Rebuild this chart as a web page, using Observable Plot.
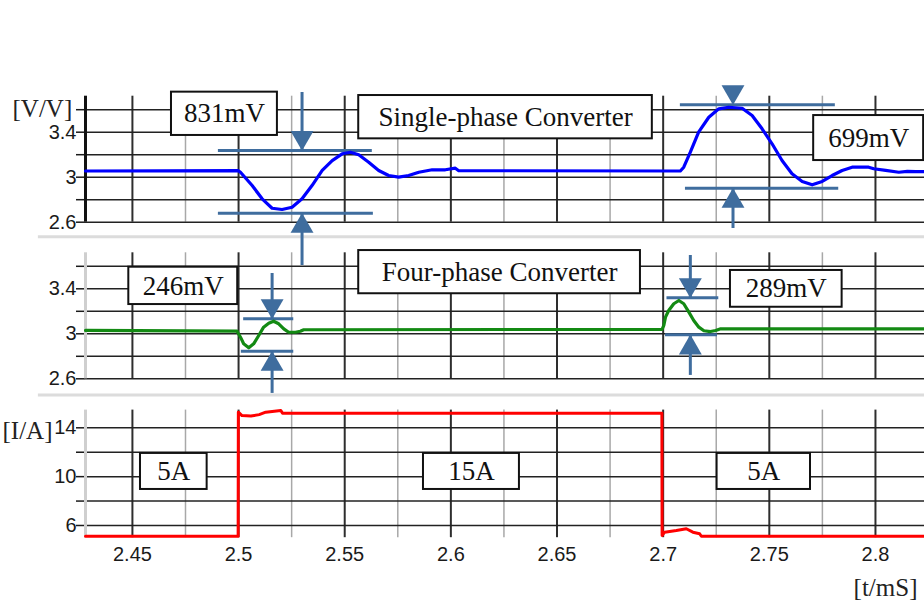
<!DOCTYPE html>
<html><head><meta charset="utf-8">
<script src="https://cdn.jsdelivr.net/npm/d3@7"></script>
<script src="https://cdn.jsdelivr.net/npm/@observablehq/plot@0.6"></script>
<style>
body{margin:0;background:#fff;}
#chart{position:relative;width:924px;height:603px;overflow:hidden;background:#fff;}
#chart svg{position:absolute;left:0;top:0;}
</style></head><body><div id="chart"></div>
<script>
// ---- axes ----
const tDomain = [2.4279, 2.8231];
const xMajor = [2.45, 2.5, 2.55, 2.6, 2.65, 2.7, 2.75, 2.8];
const xMinor = [2.475, 2.525, 2.575, 2.625, 2.675, 2.725, 2.775];
const vTicks = [3.6, 3.4, 3.2, 3.0, 2.8, 2.6];
const vLabeled = [3.4, 3.0, 2.6];
const iTicks = [14, 12, 10, 8, 6];
const iLabeled = [14, 10, 6];

// ---- series ----
const singleT = [2.4279,2.4999,2.5009,2.5064,2.5111,2.5158,2.5205,2.5252,2.5299,2.5346,2.5394,2.5441,2.5488,2.5527,2.5566,2.5613,2.5660,2.5707,2.5754,2.5801,2.5849,2.5912,2.5974,2.6021,2.6037,2.7081,2.7097,2.7128,2.7167,2.7215,2.7262,2.7309,2.7372,2.7419,2.7466,2.7513,2.7560,2.7607,2.7655,2.7702,2.7749,2.7796,2.7843,2.7890,2.7968,2.7992,2.8048,2.8110,2.8150,2.8189,2.8231];
const singleV = [3.055,3.058,3.044,2.926,2.808,2.724,2.713,2.733,2.808,2.926,3.060,3.148,3.208,3.222,3.199,3.133,3.060,3.015,3.000,3.015,3.044,3.066,3.066,3.080,3.058,3.055,3.089,3.222,3.400,3.533,3.608,3.622,3.613,3.548,3.430,3.297,3.148,3.030,2.962,2.932,2.962,3.015,3.060,3.089,3.089,3.075,3.060,3.044,3.052,3.050,3.050];

const fourT = [2.4279,2.4993,2.5009,2.5024,2.5048,2.5071,2.5095,2.5118,2.5142,2.5165,2.5189,2.5213,2.5236,2.5268,2.5291,2.5307,2.6995,2.7003,2.7011,2.7026,2.7050,2.7074,2.7097,2.7121,2.7144,2.7168,2.7192,2.7223,2.7247,2.7271,2.8231];
const fourV = [3.03,3.023,2.97,2.911,2.876,2.911,2.985,3.059,3.094,3.112,3.089,3.044,3.014,3.014,3.023,3.036,3.040,3.074,3.148,3.207,3.267,3.296,3.267,3.192,3.118,3.059,3.027,3.020,3.029,3.044,3.044];

const currentT = [2.4279,2.4998,2.4999,2.5016,2.5058,2.5097,2.5128,2.5199,2.5207,2.6994,2.6995,2.7007,2.7062,2.7109,2.7140,2.7172,2.7180,2.8231];
const currentI = [5.12,5.12,15.28,15.0,14.96,15.08,15.28,15.42,15.2,15.2,5.18,5.45,5.59,5.73,5.45,5.32,5.12,5.12];

// ---- annotations (data coordinates) ----
const topBoxes = [
  {label: "831mV", t1: 2.4684, t2: 2.5183, v1: 3.371, v2: 3.756},
  {label: "Single-phase Converter", t1: 2.5566, t2: 2.6949, v1: 3.341, v2: 3.726},
  {label: "699mV", t1: 2.7709, t2: 2.8227, v1: 3.148, v2: 3.548}
];
const midBoxes = [
  {label: "246mV", t1: 2.4483, t2: 2.4996, v1: 3.26, v2: 3.592},
  {label: "Four-phase Converter", t1: 2.5566, t2: 2.6893, v1: 3.356, v2: 3.74},
  {label: "289mV", t1: 2.7317, t2: 2.7843, v1: 3.236, v2: 3.563}
];
const botBoxes = [
  {label: "5A", t1: 2.4538, t2: 2.4852, v1: 8.95, v2: 11.9},
  {label: "15A", t1: 2.5871, t2: 2.6323, v1: 8.95, v2: 11.9},
  {label: "5A", t1: 2.7254, t2: 2.7694, v1: 8.95, v2: 11.9}
];
// measurement: arrow time, upper/lower level, line spans, shaft ends
const topMeas = [
  {t: 2.5299, hi: 3.237, lo: 2.68, hiT1: 2.4905, hiT2: 2.5630, loT1: 2.4905, loT2: 2.5635, top: 3.753, bottom: 2.215},
  {t: 2.7329, hi: 3.644, lo: 2.902, hiT1: 2.7081, hiT2: 2.7811, loT1: 2.7105, loT2: 2.7827, top: 3.644, bottom: 2.544}
];
const midMeas = [
  {t: 2.5158, hi: 3.133, lo: 2.845, hiT1: 2.5024, hiT2: 2.5260, loT1: 2.5013, loT2: 2.5260, top: 3.536, bottom: 2.47},
  {t: 2.7128, hi: 3.32, lo: 2.991, hiT1: 2.7018, hiT2: 2.7262, loT1: 2.7011, loT2: 2.7256, top: 3.696, bottom: 2.63}
];
const sepTop = {v: 2.47, t1: 2.4057};
const sepMid = {v: 2.457, t1: 2.4057};

const SERIF = "'Liberation Serif', 'Times New Roman', serif";
const SANS = "'Liberation Sans', Arial, sans-serif";
const ARROW = "#3f6d9e";

function measMarks(meas) {
  return [
    Plot.ruleY(meas, {y: "hi", x1: "hiT1", x2: "hiT2", stroke: ARROW, strokeWidth: 3}),
    Plot.ruleY(meas, {y: "lo", x1: "loT1", x2: "loT2", stroke: ARROW, strokeWidth: 3}),
    Plot.ruleX(meas, {x: "t", y1: "top", y2: "hi", stroke: ARROW, strokeWidth: 3}),
    Plot.ruleX(meas, {x: "t", y1: "lo", y2: "bottom", stroke: ARROW, strokeWidth: 3}),
    Plot.dot(meas, {x: "t", y: "hi", symbol: "triangle", r: 8.5, rotate: 180, dy: -13, fill: ARROW, stroke: "none"}),
    Plot.dot(meas, {x: "t", y: "lo", symbol: "triangle", r: 8.5, dy: 13, fill: ARROW, stroke: "none"})
  ];
}
function boxMarks(boxes) {
  return [
    Plot.rect(boxes, {x1: "t1", x2: "t2", y1: "v1", y2: "v2", fill: "white", stroke: "#111", strokeWidth: 2}),
    Plot.text(boxes, {x: d => (d.t1 + d.t2) / 2, y: d => (d.v1 + d.v2) / 2, text: "label", fontFamily: SERIF, fontSize: 27, fill: "#111"})
  ];
}
function gridMarks(ticks, labeled, leftColor, leftWidth) {
  return [
    Plot.ruleX(xMinor, {stroke: "#a8a8a8", strokeWidth: 1.5}),
    Plot.ruleX(xMajor, {stroke: "#2e2e2e", strokeWidth: 2}),
    Plot.ruleY(ticks, {stroke: "#222", strokeWidth: 1.5}),
    Plot.axisY({ticks, tickSize: 9, tickPadding: 0, strokeWidth: 1.5, fontSize: 20,
      tickFormat: d => labeled.includes(d) ? String(d) : "", label: null}),
    Plot.ruleX([tDomain[0]], {stroke: leftColor, strokeWidth: leftWidth})
  ];
}
function makePlot(opts) {
  return Plot.plot({
    width: 924, height: 603,
    marginLeft: 85, marginRight: 0,
    marginTop: opts.marginTop, marginBottom: opts.marginBottom,
    style: {background: "transparent", overflow: "visible", fontFamily: SANS, color: "#1a1a1a"},
    x: {domain: tDomain, axis: opts.xAxis ? undefined : null},
    y: {domain: opts.yDomain},
    marks: opts.marks
  });
}

const chartEl = document.getElementById("chart");

// Top: single-phase
const topPlot = makePlot({
  marginTop: 95.7, marginBottom: 381.3, yDomain: [2.6, 3.72],
  marks: [
    Plot.ruleY([sepTop.v], {x1: sepTop.t1, x2: tDomain[1], stroke: "#dcdcdc", strokeWidth: 3}),
    ...gridMarks(vTicks, vLabeled, "#111", 3),
    ...measMarks(topMeas),
    Plot.line(singleT, {x: d => d, y: (d, i) => singleV[i], stroke: "#0000ff", strokeWidth: 3.2, curve: "linear"}),
    ...boxMarks(topBoxes),
    Plot.text(["[V/V]"], {frameAnchor: "top-left", lineAnchor: "middle", dx: -73, dy: 13, textAnchor: "start", fontFamily: SERIF, fontSize: 25, fill: "#222"})
  ]
});
chartEl.append(topPlot);

// Middle: four-phase
const midPlot = makePlot({
  marginTop: 252.3, marginBottom: 224.7, yDomain: [2.6, 3.72],
  marks: [
    Plot.ruleY([sepMid.v], {x1: sepMid.t1, x2: tDomain[1], stroke: "#dcdcdc", strokeWidth: 3}),
    ...gridMarks(vTicks, vLabeled, "#cfcfcf", 3),
    ...measMarks(midMeas),
    Plot.line(fourT, {x: d => d, y: (d, i) => fourV[i], stroke: "#138a13", strokeWidth: 3.2}),
    ...boxMarks(midBoxes)
  ]
});
chartEl.append(midPlot);

// Bottom: current
const botPlot = makePlot({
  marginTop: 409.6, marginBottom: 65.8, yDomain: [5, 15.45], xAxis: true,
  marks: [
    ...gridMarks(iTicks, iLabeled, "#cfcfcf", 3),
    Plot.axisX({ticks: xMajor, tickSize: 0, tickPadding: 9, fontSize: 20, tickFormat: d => String(d), label: null}),
    Plot.line(currentT, {x: d => d, y: (d, i) => currentI[i], stroke: "#ff0000", strokeWidth: 3}),
    ...boxMarks(botBoxes),
    Plot.text(["[I/A]"], {frameAnchor: "top-left", lineAnchor: "middle", dx: -83, dy: 21, textAnchor: "start", fontFamily: SERIF, fontSize: 25, fill: "#222"}),
    Plot.text(["[t/mS]"], {frameAnchor: "bottom-right", lineAnchor: "middle", dx: -7, dy: 50, textAnchor: "end", fontFamily: SERIF, fontSize: 25, fill: "#222"})
  ]
});
chartEl.append(botPlot);
</script></body></html>
